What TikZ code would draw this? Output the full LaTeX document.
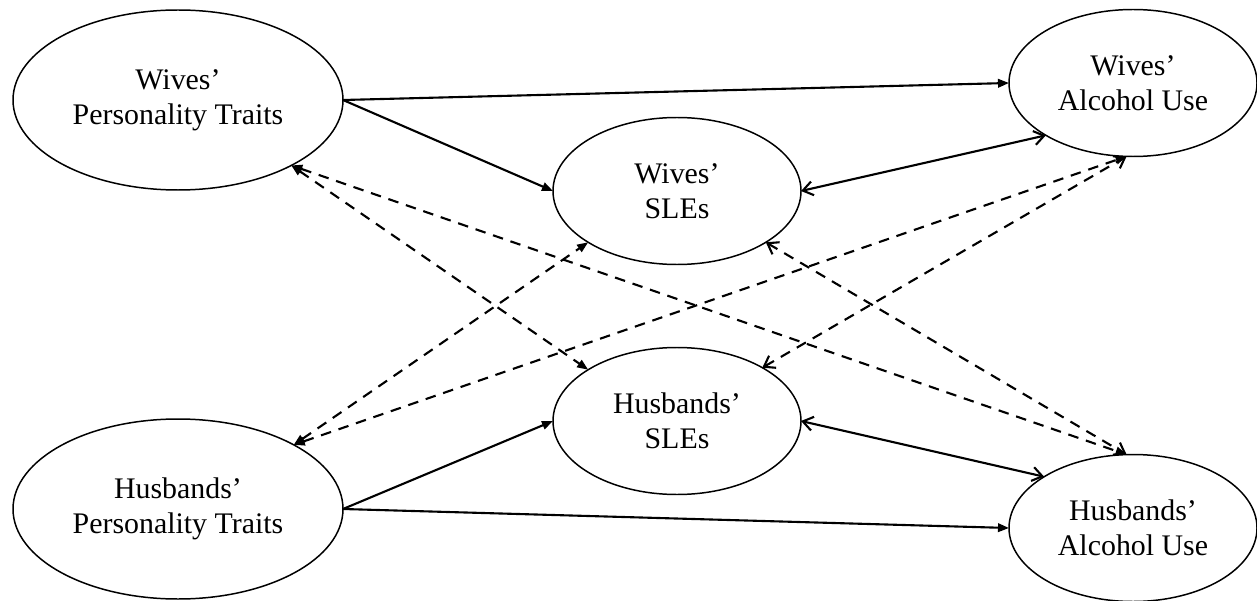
\documentclass[tikz,border=0pt]{standalone}
\usepackage{fontspec}
\setmainfont{Liberation Serif}
\usetikzlibrary{shapes.geometric,arrows.meta}

\begin{document}
\begin{tikzpicture}[
  var/.style={draw,ellipse,line width=0.85pt,inner sep=0pt,outer sep=0pt,align=center,font=\fontsize{17}{20}\selectfont},
  trait/.style={var,minimum width=6.6cm,minimum height=3.6cm},
  outcome/.style={var,minimum width=4.96cm,minimum height=2.94cm},
  effect/.style={line width=1.2pt,-{Triangle[length=2.2mm,width=1.7mm]}},
  assoc/.style={line width=1.2pt,{Straight Barb[length=2mm,width=2.8mm]}-{Straight Barb[length=2mm,width=2.8mm]}},
  crossfx/.style={line width=1.2pt,dash pattern=on 6pt off 4.5pt,{Triangle[length=2.2mm,width=1.7mm]}-{Triangle[length=2.2mm,width=1.7mm]}},
  crossassoc/.style={line width=1.2pt,dash pattern=on 6pt off 4.5pt,{Straight Barb[length=2mm,width=2.8mm]}-{Straight Barb[length=2mm,width=2.8mm]}}
]
\useasboundingbox (0,0) rectangle (25.14,12);

\node[trait] (wp) at (3.56,10.0) {Wives'\\Personality Traits};
\node[trait] (hp) at (3.56,1.82) {Husbands'\\Personality Traits};
\node[outcome] (ws) at (13.54,8.18) {Wives'\\SLEs};
\node[outcome] (hs) at (13.54,3.58) {Husbands'\\SLEs};
\node[outcome] (wa) at (22.66,10.34) {Wives'\\Alcohol Use};
\node[outcome] (ha) at (22.66,1.44) {Husbands'\\Alcohol Use};

\draw[effect] (wp.east) -- (wa.west);
\draw[effect] (wp.east) -- (ws.west);
\draw[effect] (hp.east) -- (hs.west);
\draw[effect] (hp.east) -- (ha.west);

\draw[assoc] (ws.east) -- (wa.211);
\draw[assoc] (hs.east) -- (ha.150);

\draw[crossassoc] (hs.32) -- (wa.265);
\draw[crossassoc] (ws.330) -- (ha.95);

\draw[crossfx] (wp.330) -- (hs.150);
\draw[crossfx] (wp.330) -- (ha.95);
\draw[crossfx] (hp.29) -- (ws.210);
\draw[crossfx] (hp.29) -- (wa.265);
\end{tikzpicture}
\end{document}
